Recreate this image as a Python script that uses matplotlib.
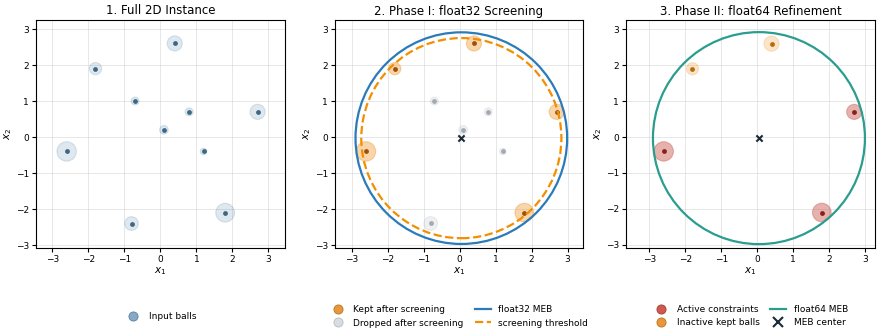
import numpy as np
import matplotlib
matplotlib.use("Agg")
import matplotlib.pyplot as plt
from matplotlib.patches import Circle
from matplotlib.lines import Line2D
from matplotlib.colors import to_rgba

# ball centers and radii
cx = [0.4, -1.8, -0.7, 0.8, 2.7, 0.1, 1.2, -2.6, 1.8, -0.8]
cy = [2.6, 1.9, 1.0, 0.7, 0.7, 0.2, -0.4, -0.4, -2.1, -2.4]
radii = [0.21, 0.17, 0.11, 0.11, 0.21, 0.12, 0.09, 0.27, 0.26, 0.19]

kept = [0, 1, 4, 7, 8]
dropped = [2, 3, 5, 6, 9]
active = [4, 7, 8]
inactive = [0, 1]

meb_center = (0.05, -0.03)
r32 = 2.94
r_threshold = 2.78
r64 = 2.95


def draw_balls(ax, idx, color, dot, face_alpha, edge_alpha):
    for i in idx:
        ax.add_patch(Circle((cx[i], cy[i]), radii[i], facecolor=to_rgba(color, face_alpha),
                            edgecolor=to_rgba(color, edge_alpha), lw=0.8, zorder=2))
    ax.scatter([cx[i] for i in idx], [cy[i] for i in idx], s=12, color=dot, zorder=3, lw=0)


def style(ax, title, xlim):
    ax.set_xlim(*xlim)
    ax.set_ylim(-3.08, 3.25)
    ax.set_aspect("equal")
    ax.set_xticks([-3, -2, -1, 0, 1, 2, 3])
    ax.set_yticks([-3, -2, -1, 0, 1, 2, 3])
    ax.grid(True, color="#d0d0d0", alpha=0.6, lw=0.6)
    ax.set_axisbelow(True)
    ax.set_title(title, fontsize=8.5, pad=4)
    ax.set_xlabel("$x_1$", fontsize=7.5, labelpad=1)
    ax.set_ylabel("$x_2$", fontsize=7.5, labelpad=1)
    ax.tick_params(labelsize=6.5, length=3, pad=2)


fig = plt.figure(figsize=(8.88, 3.35), dpi=100)
W, H = 888, 335
ax1 = fig.add_axes([36 / W, 87 / H, 249 / W, 228 / H])
ax2 = fig.add_axes([335 / W, 87 / H, 248 / W, 228 / H])
ax3 = fig.add_axes([626 / W, 87 / H, 249 / W, 228 / H])

blue_ball = "#4e80a6"
orange = "#f0982e"
grey = "#b8bec6"
red = "#c8554d"

# panel 1
draw_balls(ax1, range(len(cx)), blue_ball, "#3c6885", 0.18, 0.2)
style(ax1, "1. Full 2D Instance", (-3.45, 3.46))
h1 = [Line2D([], [], ls="", marker="o", ms=6.5, mfc="#86a9c6", mec="#5f88a8", mew=0.7, label="Input balls")]
ax1.legend(handles=h1, loc="center", bbox_to_anchor=(0.5, -0.30), frameon=False, fontsize=6.5)

# panel 2
draw_balls(ax2, kept, orange, "#9c5008", 0.4, 0.4)
draw_balls(ax2, dropped, grey, "#a3aab2", 0.22, 0.25)
ax2.add_patch(Circle(meb_center, r32, fill=False, color="#2b7bbb", lw=1.6, zorder=4))
ax2.add_patch(Circle(meb_center, r_threshold, fill=False, color="#f28e00", lw=1.6, ls="--", zorder=4))
ax2.scatter([meb_center[0]], [meb_center[1]], marker="x", s=20, color="#1c2a38", lw=1.5, zorder=5)
style(ax2, "2. Phase I: float32 Screening", (-3.46, 3.43))
h2 = [Line2D([], [], ls="", marker="o", ms=6.5, mfc="#e8983a", mec="#c07a28", mew=0.7, label="Kept after screening"),
      Line2D([], [], ls="", marker="o", ms=6.5, mfc="#d9dde2", mec="#bcc2c8", mew=0.7, label="Dropped after screening"),
      Line2D([], [], color="#2b7bbb", lw=1.6, label="float32 MEB"),
      Line2D([], [], color="#f28e00", lw=1.6, ls="--", label="screening threshold")]
ax2.legend(handles=h2, loc="center", bbox_to_anchor=(0.5, -0.30), frameon=False, fontsize=6.5,
           ncol=2, columnspacing=1.2, handlelength=1.8)

# panel 3
draw_balls(ax3, active, red, "#8e1e1a", 0.45, 0.4)
draw_balls(ax3, inactive, orange, "#b86a0c", 0.25, 0.25)
ax3.add_patch(Circle(meb_center, r64, fill=False, color="#2a9d8f", lw=1.6, zorder=4))
ax3.scatter([meb_center[0]], [meb_center[1]], marker="x", s=20, color="#1c2a38", lw=1.5, zorder=5)
style(ax3, "3. Phase II: float64 Refinement", (-3.65, 3.28))
h3 = [Line2D([], [], ls="", marker="o", ms=6.5, mfc="#cf5a50", mec="#a8433b", mew=0.7, label="Active constraints"),
      Line2D([], [], ls="", marker="o", ms=6.5, mfc="#e8983a", mec="#c07a28", mew=0.7, label="Inactive kept balls"),
      Line2D([], [], color="#2a9d8f", lw=1.6, label="float64 MEB"),
      Line2D([], [], ls="", marker="x", ms=6.5, color="#1c2a38", mew=1.5, label="MEB center")]
ax3.legend(handles=h3, loc="center", bbox_to_anchor=(0.5, -0.30), frameon=False, fontsize=6.5,
           ncol=2, columnspacing=1.2, handlelength=1.8)

fig.savefig("out.png", dpi=100)
